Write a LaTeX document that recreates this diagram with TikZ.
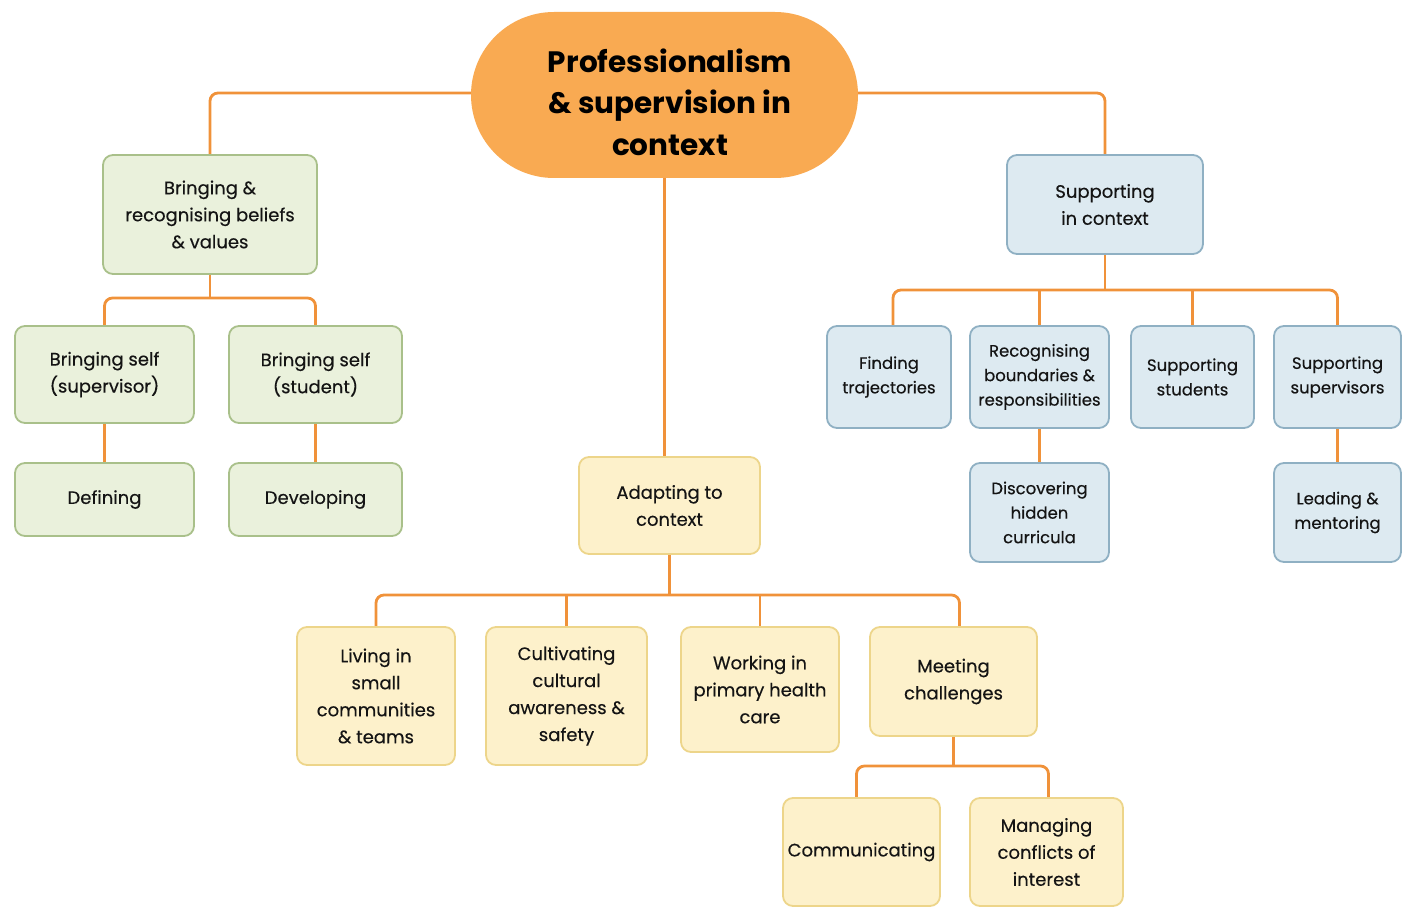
\documentclass[tikz,border=0pt]{standalone}
\usepackage{fontspec}
\setmainfont{Poppins}
\newfontfamily\bodyfont{Poppins}[FakeBold=0.35]
\usetikzlibrary{backgrounds,calc}
\definecolor{conn}{HTML}{F0923A}
\definecolor{rootfill}{HTML}{F9AA52}
\definecolor{gfill}{HTML}{EAF1DC}
\definecolor{gdraw}{HTML}{A9C08A}
\definecolor{bfill}{HTML}{DDEAF1}
\definecolor{bdraw}{HTML}{8FB0C3}
\definecolor{yfill}{HTML}{FDF1CB}
\definecolor{ydraw}{HTML}{EDD58A}
\definecolor{txt}{HTML}{141414}
\begin{document}
\begin{tikzpicture}[x=1pt,y=-1pt,
  box/.style={rectangle, rounded corners=10pt, line width=1.8pt, align=center, inner sep=0pt, text=txt},
  gbox/.style={box, fill=gfill, draw=gdraw, font=\bodyfont\fontsize{18}{27}\selectfont},
  ybox/.style={box, fill=yfill, draw=ydraw, font=\bodyfont\fontsize{18}{27}\selectfont},
  bbox/.style={box, fill=bfill, draw=bdraw, font=\bodyfont\fontsize{16.5}{24.5}\selectfont},
  rootbox/.style={rectangle, rounded corners=83pt, fill=rootfill, draw=none},
  link/.style={draw=conn, line width=2.8pt, rounded corners=8pt}
]
\useasboundingbox (0,0) rectangle (1408,920);

% root
\node[rootbox, minimum width=387, minimum height=166] (root) at (664.5,95) {};
\node[align=center, text=black, font=\fontsize{29.5}{41.5}\selectfont\bfseries] (roottxt) at (670,102) {Professionalism\\ \& supervision in\\ context};

% green branch
\node[gbox, minimum width=214, minimum height=119] (B1) at (210,214.5) {Bringing \&\\ recognising beliefs\\ \& values};
\node[gbox, minimum width=179, minimum height=97] (B2) at (104.5,374.5) {Bringing self\\ (supervisor)};
\node[gbox, minimum width=173, minimum height=97] (B3) at (315.5,374.5) {Bringing self\\ (student)};
\node[gbox, minimum width=179, minimum height=73] (B4) at (104.5,499.5) {Defining};
\node[gbox, minimum width=173, minimum height=73] (B5) at (315.5,499.5) {Developing};

% blue branch
\node[bbox, minimum width=196, minimum height=99, font=\bodyfont\fontsize{18}{27}\selectfont] (S) at (1105,204.5) {Supporting\\ in context};
\node[bbox, minimum width=124, minimum height=102] (S1) at (889,377) {Finding\\ trajectories};
\node[bbox, minimum width=139, minimum height=102] (S2) at (1039.5,377) {Recognising\\ boundaries \&\\ responsibilities};
\node[bbox, minimum width=123, minimum height=102] (S3) at (1192.5,377) {Supporting\\ students};
\node[bbox, minimum width=127, minimum height=102] (S4) at (1337.5,377) {Supporting\\ supervisors};
\node[bbox, minimum width=139, minimum height=99] (S5) at (1039.5,512.5) {Discovering\\ hidden\\ curricula};
\node[bbox, minimum width=127, minimum height=99] (S6) at (1337.5,512.5) {Leading \&\\ mentoring};

% yellow branch
\node[ybox, minimum width=181, minimum height=97] (A) at (669.5,505.5) {Adapting to\\ context};
\node[ybox, minimum width=158, minimum height=138] (A1) at (376,696) {Living in\\ small\\ communities\\ \& teams};
\node[ybox, minimum width=161, minimum height=138] (A2) at (566.5,696) {Cultivating\\ cultural\\ awareness \&\\ safety};
\node[ybox, minimum width=158, minimum height=125] (A3) at (760,689.5) {Working in\\ primary health\\ care};
\node[ybox, minimum width=167, minimum height=109] (A4) at (953.5,681.5) {Meeting\\ challenges};
\node[ybox, minimum width=157, minimum height=108] (A5) at (861.5,852) {Communicating};
\node[ybox, minimum width=153, minimum height=108] (A6) at (1046.5,852) {Managing\\ conflicts of\\ interest};

% bus coordinates
\coordinate (gb) at (210,298);
\coordinate (sb) at (1105,290);
\coordinate (ab) at (669.5,595);
\coordinate (mb) at (953.5,766);

\begin{scope}[on background layer]
  \draw[link] (root.west |- 0,93) -| (B1.north);
  \draw[link] (root.east |- 0,93) -| (S.north);
  \draw[link] (root.south) -- (root.south |- A.north);
  % green
  \draw[link] (B1.south) -- (gb);
  \draw[link] (B2.north) |- (gb) -| (B3.north);
  \draw[link] (B2.south) -- (B4.north);
  \draw[link] (B3.south) -- (B5.north);
  % blue
  \draw[link] (S.south) -- (sb);
  \draw[link] ([xshift=4pt]S1.north) |- (sb) -| (S4.north);
  \draw[link] (S2.north) -- (S2.north |- sb);
  \draw[link] (S3.north) -- (S3.north |- sb);
  \draw[link] (S2.south) -- (S5.north);
  \draw[link] (S4.south) -- (S6.north);
  % yellow
  \draw[link] (A.south) -- (ab);
  \draw[link] (A1.north) |- (ab) -| ([xshift=6pt]A4.north);
  \draw[link] (A2.north) -- (A2.north |- ab);
  \draw[link] (A3.north) -- (A3.north |- ab);
  \draw[link] (A4.south) -- (mb);
  \draw[link] ([xshift=-5pt]A5.north) |- (mb) -| ([xshift=2pt]A6.north);
\end{scope}
\end{tikzpicture}
\end{document}
